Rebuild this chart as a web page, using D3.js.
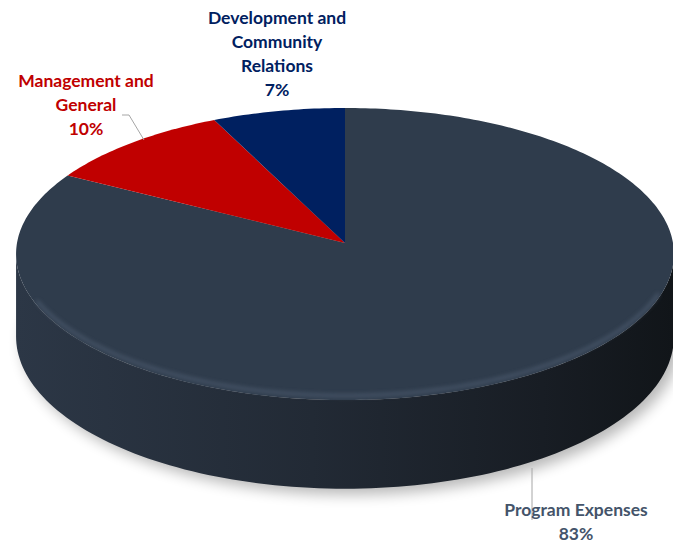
<!DOCTYPE html>
<html>
<head>
<meta charset="utf-8">
<script src="https://cdn.jsdelivr.net/npm/d3@7"></script>
<style>
  body { margin: 0; background: #fff; }
  text { font-family: Lato, "Open Sans", sans-serif; font-weight: 700; }
</style>
</head>
<body>
<div id="chart"></div>
<script>
// Data (clockwise from 12 o'clock)
const categories = ["Program Expenses", "Management and General", "Development and Community Relations"];
const shares = [83, 10, 7];
const labelLines = [["Program Expenses"], ["Management and", "General"], ["Development and", "Community", "Relations"]];
const sliceColors = ["#2f3c4c", "#c00000", "#002060"];
const labelColors = ["#44546a", "#c00000", "#002060"];

const width = 673, height = 545;

// perspective "3D" pie geometry
const cx = 345, cy = 243, R = 328, Rk = 145.2, p = 0.0753, depth = 82;

const svg = d3.select("#chart").append("svg")
    .attr("width", width)
    .attr("height", height);

const defs = svg.append("defs");

const sideGrad = defs.append("linearGradient").attr("id", "side-grad");
sideGrad.selectAll("stop")
    .data([["0%", "#2c3746"], ["45%", "#222a35"], ["80%", "#181d24"], ["100%", "#111519"]])
    .enter().append("stop")
    .attr("offset", d => d[0])
    .attr("stop-color", d => d[1]);

defs.append("filter").attr("id", "shadow-blur")
    .attr("x", "-20%").attr("y", "-20%").attr("width", "140%").attr("height", "140%")
  .append("feGaussianBlur").attr("stdDeviation", 7);

defs.append("filter").attr("id", "bevel-blur")
    .attr("x", "-10%").attr("y", "-10%").attr("width", "120%").attr("height", "120%")
  .append("feGaussianBlur").attr("stdDeviation", 2.2);

// project an angle (d3 pie convention) at a given drop below the top face
function proj(a, z) {
    const u = Math.sin(a), v = -Math.cos(a);
    const w = 1 - p * v;
    return [cx + R * u / w, cy + (Rk * v + z) / w];
}

function edge(a0, a1, z, n) {
    const pts = [];
    for (let i = 0; i <= n; i++) pts.push(proj(a0 + (a1 - a0) * i / n, z));
    return pts;
}

const line = d3.line();

const pie = d3.pie().sort(null).value(d => d.value);
const arcs = pie(categories.map((c, i) => ({ name: c, value: shares[i], i: i })));

// shadow under the pie
const shadowPts = edge(0, 2 * Math.PI, depth, 180).map(d => [d[0] + 6, d[1] + 6]);
svg.append("path")
    .attr("d", line(shadowPts) + "Z")
    .attr("fill", "#000")
    .attr("opacity", 0.28)
    .attr("filter", "url(#shadow-blur)");

// side wall (front half)
const aL = Math.acos(-p), aR = 2 * Math.PI - Math.acos(-p);
const sidePts = edge(aL, aR, 0, 120).concat(edge(aR, aL, depth, 120));
svg.append("path")
    .attr("d", line(sidePts) + "Z")
    .attr("fill", "url(#side-grad)");

// top face slices
svg.selectAll("path.slice")
    .data(arcs)
    .enter().append("path")
    .attr("class", "slice")
    .attr("d", d => {
        const n = Math.max(8, Math.round((d.endAngle - d.startAngle) * 60));
        return line([[cx, cy]].concat(edge(d.startAngle, d.endAngle, 0, n))) + "Z";
    })
    .attr("fill", d => sliceColors[d.data.i]);

// bevel highlight on the front rim
svg.append("path")
    .attr("d", line(edge(aL + 0.3, aR - 0.35, -4, 100)))
    .attr("fill", "none")
    .attr("stroke", "#5b6b80")
    .attr("stroke-width", 3)
    .attr("opacity", 0.6)
    .attr("filter", "url(#bevel-blur)");

// leader lines
const leaders = [
    [[532, 468], [532, 520]],
    [[122, 115], [129, 115], [144, 140]]
];
svg.selectAll("path.leader")
    .data(leaders)
    .enter().append("path")
    .attr("class", "leader")
    .attr("d", d => line(d))
    .attr("fill", "none")
    .attr("stroke", "#a6a6a6")
    .attr("stroke-width", 1);

// data labels
const labelAnchor = [[576, 516], [86, 87], [277, 24]];
const lineH = 24;
const fmt = d => d + "%";

arcs.forEach(d => {
    const i = d.data.i;
    const lines = labelLines[i].concat([fmt(d.data.value)]);
    const t = svg.append("text")
        .attr("text-anchor", "middle")
        .attr("font-size", 17.5)
        .attr("fill", labelColors[i]);
    lines.forEach((s, k) => {
        t.append("tspan")
            .attr("x", labelAnchor[i][0])
            .attr("y", labelAnchor[i][1] + k * lineH)
            .text(s);
    });
});
</script>
</body>
</html>
